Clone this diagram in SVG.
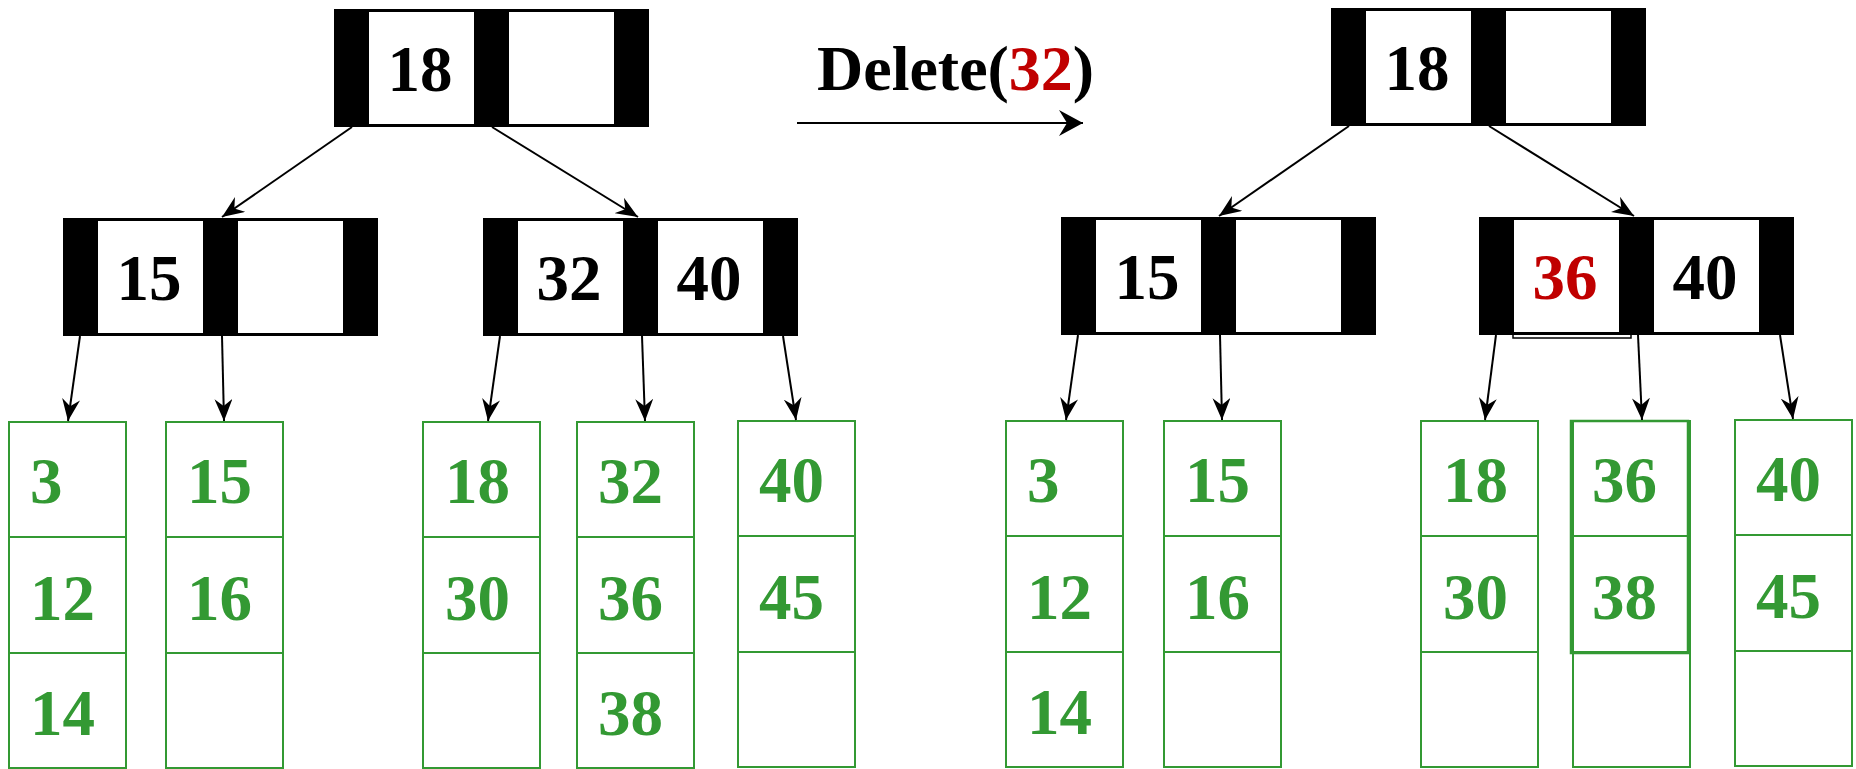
<svg xmlns="http://www.w3.org/2000/svg" width="1856" height="769" viewBox="0 0 1856 769">
<style>
.bar{fill:#000}
.box{fill:#fff}
.key{font-family:"Liberation Serif","Times New Roman",serif;font-weight:bold;font-size:65px;fill:#000;text-anchor:middle}
.red{fill:#C00000}
.leaf{fill:#fff;stroke:#339933;stroke-width:2}
.lt{font-family:"Liberation Serif","Times New Roman",serif;font-weight:bold;font-size:65px;fill:#339933}
.edge{stroke:#000;stroke-width:2;fill:none;marker-end:url(#ah)}
</style>
<defs>
<marker id="ah" viewBox="0 0 22 18" refX="22" refY="9" markerWidth="22" markerHeight="18" markerUnits="userSpaceOnUse" orient="auto">
<path d="M0,0 L22,9 L0,18 L7,9 Z" fill="#000"/>
</marker>
<marker id="ah2" viewBox="0 0 24 26" refX="24" refY="13" markerWidth="24" markerHeight="26" markerUnits="userSpaceOnUse" orient="auto">
<path d="M0,0 L24,13 L0,26 L8,13 Z" fill="#000"/>
</marker>
<g id="inode">
<rect class="bar" x="0" y="0" width="315" height="118"/>
<rect class="box" x="35" y="3" width="105" height="112"/>
<rect class="box" x="175" y="3" width="105" height="112"/>
</g>
<g id="leafbox">
<rect class="leaf" x="0" y="0" width="117" height="346"/>
<line x1="0" y1="115" x2="117" y2="115" stroke="#339933" stroke-width="2"/>
<line x1="0" y1="231" x2="117" y2="231" stroke="#339933" stroke-width="2"/>
</g>
</defs>
<rect width="1856" height="769" fill="#fff"/>

<!-- Left tree -->
<g id="L-root" transform="translate(334,9)">
<use href="#inode"/>
<text class="key" x="86" y="82">18</text>
</g>
<g id="L-n1" transform="translate(63,218)">
<use href="#inode"/>
<text class="key" x="86" y="82">15</text>
</g>
<g id="L-n2" transform="translate(483,218)">
<use href="#inode"/>
<text class="key" x="86" y="82">32</text>
<text class="key" x="226" y="82">40</text>
</g>
<g id="L-leaf1" transform="translate(9,422)">
<use href="#leafbox"/>
<text class="lt" x="21" y="81">3</text>
<text class="lt" x="21" y="198">12</text>
<text class="lt" x="21" y="313">14</text>
</g>
<g id="L-leaf2" transform="translate(166,422)">
<use href="#leafbox"/>
<text class="lt" x="21" y="81">15</text>
<text class="lt" x="21" y="198">16</text>
</g>
<g id="L-leaf3" transform="translate(423,422)">
<use href="#leafbox"/>
<text class="lt" x="22" y="81">18</text>
<text class="lt" x="22" y="198">30</text>
</g>
<g id="L-leaf4" transform="translate(577,422)">
<use href="#leafbox"/>
<text class="lt" x="21" y="81">32</text>
<text class="lt" x="21" y="198">36</text>
<text class="lt" x="21" y="313">38</text>
</g>
<g id="L-leaf5" transform="translate(738,421)">
<use href="#leafbox"/>
<text class="lt" x="21" y="81">40</text>
<text class="lt" x="21" y="198">45</text>
</g>

<!-- Operation label -->
<g id="op">
<text x="817" y="90" font-family="'Liberation Serif','Times New Roman',serif" font-weight="bold" font-size="64" fill="#000">Delete(<tspan fill="#C00000">32</tspan>)</text>
<line x1="797" y1="123" x2="1083" y2="123" stroke="#000" stroke-width="2" marker-end="url(#ah2)"/>
</g>

<!-- Right tree -->
<g id="R-root" transform="translate(1331,8)">
<use href="#inode"/>
<text class="key" x="86" y="82">18</text>
</g>
<g id="R-n1" transform="translate(1061,217)">
<use href="#inode"/>
<text class="key" x="86" y="82">15</text>
</g>
<g id="R-n2" transform="translate(1479,217)">
<use href="#inode"/>
<rect x="34" y="2" width="118" height="119" fill="none" stroke="#000" stroke-width="1.5"/>
<text class="key red" x="86" y="82">36</text>
<text class="key" x="226" y="82">40</text>
</g>
<g id="R-leaf1" transform="translate(1006,421)">
<use href="#leafbox"/>
<text class="lt" x="21" y="81">3</text>
<text class="lt" x="21" y="198">12</text>
<text class="lt" x="21" y="313">14</text>
</g>
<g id="R-leaf2" transform="translate(1164,421)">
<use href="#leafbox"/>
<text class="lt" x="21" y="81">15</text>
<text class="lt" x="21" y="198">16</text>
</g>
<g id="R-leaf3" transform="translate(1421,421)">
<use href="#leafbox"/>
<text class="lt" x="22" y="81">18</text>
<text class="lt" x="22" y="198">30</text>
</g>
<g id="R-leaf4" transform="translate(1573,421)">
<use href="#leafbox"/>
<rect x="-2" y="0" width="117" height="232" fill="none" stroke="#339933" stroke-width="2.5"/>
<text class="lt" x="19" y="81">36</text>
<text class="lt" x="19" y="198">38</text>
</g>
<g id="R-leaf5" transform="translate(1735,420)">
<use href="#leafbox"/>
<text class="lt" x="21" y="81">40</text>
<text class="lt" x="21" y="198">45</text>
</g>

<!-- Connectors -->
<g id="connectors">
<line class="edge" x1="352" y1="127" x2="222" y2="217"/>
<line class="edge" x1="492" y1="127" x2="638" y2="217"/>
<line class="edge" x1="80" y1="336" x2="68" y2="421"/>
<line class="edge" x1="222" y1="336" x2="224" y2="421"/>
<line class="edge" x1="500" y1="336" x2="488" y2="421"/>
<line class="edge" x1="642" y1="336" x2="645" y2="421"/>
<line class="edge" x1="783" y1="336" x2="796" y2="420"/>
<line class="edge" x1="1349" y1="126" x2="1219" y2="216"/>
<line class="edge" x1="1489" y1="126" x2="1634" y2="216"/>
<line class="edge" x1="1078" y1="335" x2="1066" y2="420"/>
<line class="edge" x1="1220" y1="335" x2="1222" y2="420"/>
<line class="edge" x1="1496" y1="335" x2="1485" y2="420"/>
<line class="edge" x1="1638" y1="335" x2="1642" y2="420"/>
<line class="edge" x1="1780" y1="335" x2="1793" y2="419"/>
</g>
</svg>
